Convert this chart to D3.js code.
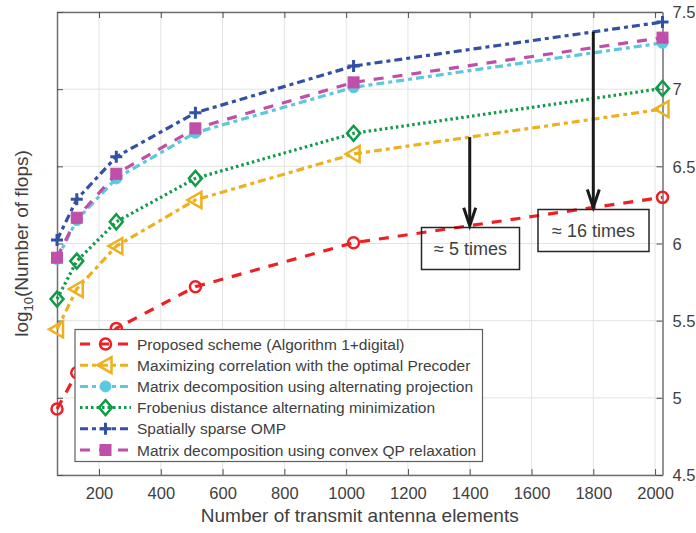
<!DOCTYPE html>
<html>
<head>
<meta charset="utf-8">
<script src="https://cdnjs.cloudflare.com/ajax/libs/d3/7.8.5/d3.min.js"></script>
<style>
  body { margin: 0; background: #fff; }
  text { font-family: "Liberation Sans", Arial, sans-serif; fill: #404040; }
</style>
</head>
<body>
<script>
var width = 696, height = 533;
var pLeft = 57, pRight = 662.5, pTop = 12, pBottom = 475;

// data
var antennas = [64, 128, 256, 512, 1024, 2024];
var proposed   = [4.927, 5.163, 5.45, 5.72, 6.005, 6.299];
var maxCorr    = [5.444, 5.705, 5.983, 6.282, 6.58, 6.871];
var altProj    = [5.90, 6.152, 6.422, 6.718, 7.012, 7.30];
var frobenius  = [5.64, 5.886, 6.141, 6.422, 6.714, 7.005];
var ompSparse  = [6.022, 6.286, 6.562, 6.847, 7.15, 7.435];
var convexQP   = [5.908, 6.167, 6.452, 6.746, 7.044, 7.334];

var xTicks = [200, 400, 600, 800, 1000, 1200, 1400, 1600, 1800, 2000];
var yTicks = [4.5, 5, 5.5, 6, 6.5, 7, 7.5];

var names = [
    "Proposed scheme (Algorithm 1+digital)",
    "Maximizing correlation with the optimal Precoder",
    "Matrix decomposition using alternating projection",
    "Frobenius distance alternating minimization",
    "Spatially sparse OMP",
    "Matrix decomposition using convex QP relaxation"
];

var series = [
    { name: names[0], values: proposed,  color: "#ee2026", dash: "10,9",    marker: "circle"  },
    { name: names[1], values: maxCorr,   color: "#edb120", dash: "8,4,4,4", marker: "triangle" },
    { name: names[2], values: altProj,   color: "#5cc8dc", dash: "8,4,4,4", marker: "dot" },
    { name: names[3], values: frobenius, color: "#129a48", dash: "2.5,3",   marker: "diamond" },
    { name: names[4], values: ompSparse, color: "#3250a4", dash: "8,4,4,4", marker: "plus" },
    { name: names[5], values: convexQP,  color: "#bf4fa9", dash: "10,9",    marker: "square" }
];

var x = d3.scaleLinear().domain([64, 2024]).range([pLeft, pRight]);
var y = d3.scaleLinear().domain([4.5, 7.5]).range([pBottom, pTop]);

var svg = d3.select('body').append('svg')
        .attr('width', width)
        .attr('height', height);

// grid
svg.append('g').selectAll('line').data(xTicks).enter().append('line')
    .attr('x1', function (d) { return x(d); }).attr('x2', function (d) { return x(d); })
    .attr('y1', pTop).attr('y2', pBottom)
    .attr('stroke', '#e3e3e3').attr('stroke-width', 1);
svg.append('g').selectAll('line').data(yTicks).enter().append('line')
    .attr('x1', pLeft).attr('x2', pRight)
    .attr('y1', function (d) { return y(d); }).attr('y2', function (d) { return y(d); })
    .attr('stroke', '#e3e3e3').attr('stroke-width', 1);

// axes
var xAxis = svg.append('g').attr('transform', 'translate(0,' + pBottom + ')')
    .call(d3.axisBottom(x).tickValues(xTicks).tickSizeInner(-6).tickSizeOuter(0).tickPadding(12)
        .tickFormat(d3.format('d')));
var xTop = svg.append('g').attr('transform', 'translate(0,' + pTop + ')')
    .call(d3.axisTop(x).tickValues(xTicks).tickSizeInner(-6).tickSizeOuter(0).tickFormat(''));
var yAxis = svg.append('g').attr('transform', 'translate(' + pRight + ',0)')
    .call(d3.axisRight(y).tickValues(yTicks).tickSizeInner(-6).tickSizeOuter(0).tickPadding(10)
        .tickFormat(function (d) { return d; }));
var yLeft = svg.append('g').attr('transform', 'translate(' + pLeft + ',0)')
    .call(d3.axisLeft(y).tickValues(yTicks).tickSizeInner(-6).tickSizeOuter(0).tickFormat(''));

[xAxis, xTop, yAxis, yLeft].forEach(function (g) {
    g.selectAll('path').attr('stroke', '#707070').attr('stroke-width', 1.5);
    g.selectAll('line').attr('stroke', '#505050');
    g.selectAll('text').style('font-size', '16.5px').attr('fill', '#404040')
        .style('font-family', '"Liberation Sans", Arial, sans-serif');
});
yAxis.selectAll('text').attr('dy', '0.35em');

// axis labels
svg.append('text')
    .attr('x', (pLeft + pRight) / 2).attr('y', 522)
    .attr('text-anchor', 'middle')
    .style('font-size', '19px')
    .text('Number of transmit antenna elements');

var yl = svg.append('text')
    .attr('transform', 'translate(28,' + ((pTop + pBottom) / 2) + ') rotate(-90)')
    .attr('text-anchor', 'middle')
    .style('font-size', '19px');
yl.append('tspan').text('log');
yl.append('tspan').attr('dy', 5).style('font-size', '13px').text('10');
yl.append('tspan').attr('dy', -5).text('(Number of flops)');

// markers
var drawMarker = function (g, type, color, cx, cy) {
    if (type === 'circle') {
        g.append('circle').attr('cx', cx).attr('cy', cy).attr('r', 5.5)
            .attr('fill', 'none').attr('stroke', color).attr('stroke-width', 2.5);
    } else if (type === 'dot') {
        g.append('circle').attr('cx', cx).attr('cy', cy).attr('r', 5.5)
            .attr('fill', color).attr('stroke', color).attr('stroke-width', 1);
    } else if (type === 'triangle') {
        g.append('path')
            .attr('d', 'M' + (cx - 8) + ',' + cy + 'L' + (cx + 6) + ',' + (cy - 8) + 'L' + (cx + 6) + ',' + (cy + 8) + 'Z')
            .attr('fill', 'none').attr('stroke', color).attr('stroke-width', 2.5).attr('stroke-linejoin', 'miter');
    } else if (type === 'diamond') {
        g.append('path')
            .attr('d', 'M' + cx + ',' + (cy - 7.5) + 'L' + (cx + 6.5) + ',' + cy + 'L' + cx + ',' + (cy + 7.5) + 'L' + (cx - 6.5) + ',' + cy + 'Z')
            .attr('fill', 'none').attr('stroke', color).attr('stroke-width', 2.5);
    } else if (type === 'plus') {
        g.append('path')
            .attr('d', 'M' + (cx - 6) + ',' + cy + 'H' + (cx + 6) + 'M' + cx + ',' + (cy - 6) + 'V' + (cy + 6))
            .attr('stroke', color).attr('stroke-width', 3);
    } else if (type === 'square') {
        g.append('rect').attr('x', cx - 5.5).attr('y', cy - 5.5).attr('width', 11).attr('height', 11)
            .attr('fill', color).attr('stroke', color).attr('stroke-width', 1);
    }
};

var line = d3.line()
    .x(function (d, i) { return x(antennas[i]); })
    .y(function (d) { return y(d); });

series.forEach(function (s) {
    var g = svg.append('g');
    g.append('path').datum(s.values)
        .attr('d', line)
        .attr('fill', 'none')
        .attr('stroke', s.color)
        .attr('stroke-width', 3.2)
        .attr('stroke-dasharray', s.dash);
    s.values.forEach(function (v, i) {
        drawMarker(g, s.marker, s.color, x(antennas[i]), y(v));
    });
});

// annotations
var interp = function (vals, xv) {
    return d3.scaleLinear().domain(antennas).range(vals)(xv);
};
var arrows = [
    { at: 1400, from: maxCorr, to: proposed },
    { at: 1800, from: ompSparse, to: proposed }
];
arrows.forEach(function (a) {
    var ax = x(a.at), y0 = y(interp(a.from, a.at)), y1 = y(interp(a.to, a.at));
    svg.append('line').attr('x1', ax).attr('x2', ax).attr('y1', y0).attr('y2', y1 - 4)
        .attr('stroke', '#1a1a1a').attr('stroke-width', 3);
    svg.append('path')
        .attr('d', 'M' + (ax - 6) + ',' + (y1 - 18) + 'L' + ax + ',' + y1 + 'L' + (ax + 6) + ',' + (y1 - 18))
        .attr('fill', 'none').attr('stroke', '#1a1a1a').attr('stroke-width', 3);
});

var boxes = [
    { label: '\u2248 5 times',  x0: 421.5, y0: 227.5, w: 98,  h: 42 },
    { label: '\u2248 16 times', x0: 538,   y0: 209.5, w: 111, h: 42 }
];
boxes.forEach(function (b) {
    svg.append('rect').attr('x', b.x0).attr('y', b.y0).attr('width', b.w).attr('height', b.h)
        .attr('fill', 'none').attr('stroke', '#262626').attr('stroke-width', 1.5);
    svg.append('text').attr('x', b.x0 + b.w / 2).attr('y', b.y0 + b.h / 2 + 6)
        .attr('text-anchor', 'middle').style('font-size', '18px').attr('fill', '#262626')
        .text(b.label);
});

// legend
var lg = svg.append('g');
lg.append('rect').attr('x', 75).attr('y', 329.5).attr('width', 407.5).attr('height', 132)
    .attr('fill', '#fff').attr('stroke', '#606060').attr('stroke-width', 1.2);
series.forEach(function (s, i) {
    var ly = 344 + i * 21.2;
    var g = lg.append('g');
    g.append('line').attr('x1', 80).attr('x2', 131).attr('y1', ly).attr('y2', ly)
        .attr('stroke', s.color).attr('stroke-width', 3).attr('stroke-dasharray', s.dash);
    drawMarker(g, s.marker, s.color, 105.5, ly);
    g.append('text').attr('x', 137).attr('y', ly + 5.5)
        .style('font-size', '15.5px').attr('fill', '#262626')
        .text(s.name);
});
</script>
</body>
</html>
